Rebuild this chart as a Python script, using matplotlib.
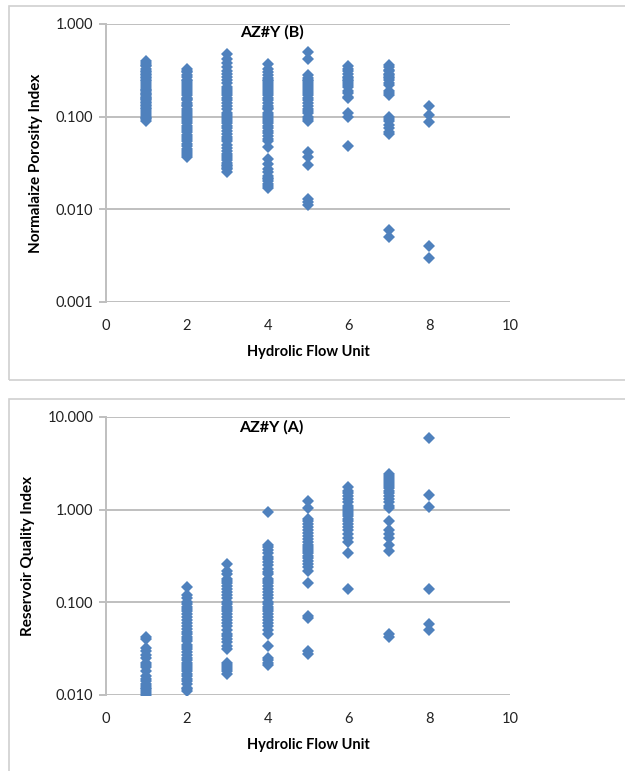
import matplotlib.pyplot as plt
from matplotlib.patches import Rectangle

# Normalaize Porosity Index per hydrolic flow unit (panel B)
npi_1 = [0.40, 0.38, 0.36, 0.35, 0.33, 0.31, 0.30, 0.29, 0.28, 0.27, 0.26, 0.25, 0.24, 0.23,
         0.22, 0.21, 0.20, 0.195, 0.19, 0.18, 0.175, 0.17, 0.165, 0.16, 0.155, 0.15, 0.145,
         0.14, 0.135, 0.13, 0.125, 0.12, 0.115, 0.11, 0.105, 0.10, 0.097, 0.094, 0.09]
npi_2 = [0.33, 0.31, 0.30, 0.28, 0.27, 0.25, 0.24, 0.23, 0.22, 0.21, 0.20, 0.19, 0.18, 0.17,
         0.16, 0.155, 0.15, 0.14, 0.135, 0.13, 0.12, 0.115, 0.11, 0.105, 0.10, 0.095, 0.09,
         0.085, 0.08, 0.076, 0.072, 0.068, 0.064, 0.06, 0.057, 0.054, 0.051, 0.048, 0.045,
         0.043, 0.041, 0.039, 0.037]
npi_3 = [0.47, 0.42, 0.38, 0.34, 0.31, 0.29, 0.27, 0.25, 0.23, 0.21, 0.20, 0.19, 0.18, 0.17,
         0.16, 0.15, 0.14, 0.13, 0.12, 0.11, 0.105, 0.10, 0.095, 0.09, 0.085, 0.08, 0.075,
         0.07, 0.065, 0.06, 0.057, 0.054, 0.05, 0.046, 0.043, 0.04, 0.038, 0.036, 0.034,
         0.032, 0.03, 0.029, 0.028, 0.027, 0.025]
npi_4 = [0.37, 0.33, 0.30, 0.28, 0.26, 0.25, 0.24, 0.23, 0.22, 0.21, 0.20, 0.19, 0.18, 0.17,
         0.16, 0.15, 0.14, 0.13, 0.125, 0.12, 0.11, 0.105, 0.10, 0.095, 0.09, 0.085, 0.08,
         0.075, 0.07, 0.066, 0.062, 0.058, 0.054, 0.047, 0.035, 0.031, 0.027, 0.025, 0.023,
         0.022, 0.021, 0.02, 0.019, 0.018, 0.017]
npi_5 = [0.50, 0.42, 0.28, 0.26, 0.25, 0.24, 0.23, 0.22, 0.21, 0.20, 0.19, 0.18, 0.17, 0.16,
         0.15, 0.14, 0.13, 0.12, 0.115, 0.11, 0.10, 0.095, 0.09, 0.042, 0.037, 0.030, 0.013,
         0.012, 0.011]
npi_6 = [0.35, 0.33, 0.31, 0.29, 0.27, 0.26, 0.25, 0.24, 0.23, 0.22, 0.21, 0.19, 0.18, 0.165,
         0.16, 0.11, 0.10, 0.048]
npi_7 = [0.36, 0.34, 0.32, 0.31, 0.29, 0.28, 0.27, 0.26, 0.25, 0.23, 0.22, 0.19, 0.18, 0.17,
         0.10, 0.095, 0.09, 0.082, 0.075, 0.068, 0.065, 0.006, 0.005]
npi_8 = [0.13, 0.105, 0.088, 0.004, 0.003]

# Reservoir Quality Index per hydrolic flow unit (panel A)
rqi_1 = [0.042, 0.040, 0.032, 0.030, 0.027, 0.025, 0.022, 0.021, 0.020, 0.018, 0.016, 0.015,
         0.014, 0.013, 0.0125, 0.012, 0.0115, 0.011, 0.0105, 0.010]
rqi_2 = [0.145, 0.12, 0.11, 0.10, 0.095, 0.09, 0.085, 0.08, 0.075, 0.07, 0.065, 0.06, 0.056,
         0.052, 0.048, 0.045, 0.042, 0.04, 0.038, 0.035, 0.033, 0.031, 0.029, 0.027, 0.025,
         0.024, 0.022, 0.021, 0.02, 0.019, 0.018, 0.017, 0.016, 0.015, 0.014, 0.013, 0.012,
         0.0115, 0.011]
rqi_3 = [0.26, 0.22, 0.20, 0.18, 0.17, 0.16, 0.15, 0.14, 0.13, 0.12, 0.11, 0.10, 0.095, 0.09,
         0.085, 0.08, 0.075, 0.07, 0.065, 0.06, 0.055, 0.05, 0.046, 0.043, 0.04, 0.037, 0.034,
         0.031, 0.022, 0.021, 0.02, 0.019, 0.018, 0.017]
rqi_4 = [0.95, 0.42, 0.40, 0.37, 0.34, 0.31, 0.29, 0.27, 0.25, 0.23, 0.21, 0.20, 0.18, 0.17,
         0.16, 0.15, 0.14, 0.13, 0.12, 0.11, 0.10, 0.095, 0.09, 0.085, 0.08, 0.075, 0.07,
         0.065, 0.06, 0.055, 0.05, 0.045, 0.034, 0.025, 0.024, 0.022, 0.021]
rqi_5 = [1.25, 1.05, 0.80, 0.75, 0.70, 0.65, 0.60, 0.56, 0.52, 0.48, 0.45, 0.42, 0.40, 0.38,
         0.36, 0.34, 0.32, 0.30, 0.28, 0.26, 0.24, 0.22, 0.16, 0.072, 0.068, 0.030, 0.028]
rqi_6 = [1.75, 1.6, 1.5, 1.4, 1.3, 1.2, 1.1, 1.05, 1.0, 0.95, 0.9, 0.85, 0.8, 0.75, 0.7, 0.65,
         0.6, 0.55, 0.5, 0.45, 0.34, 0.14]
rqi_7 = [2.4, 2.3, 2.2, 2.1, 2.0, 1.9, 1.8, 1.7, 1.6, 1.5, 1.4, 1.3, 1.2, 1.1, 1.05, 0.75, 0.6,
         0.55, 0.5, 0.42, 0.36, 0.045, 0.042]
rqi_8 = [6.0, 1.45, 1.08, 0.14, 0.058, 0.05]

npi_units = [npi_1, npi_2, npi_3, npi_4, npi_5, npi_6, npi_7, npi_8]
rqi_units = [rqi_1, rqi_2, rqi_3, rqi_4, rqi_5, rqi_6, rqi_7, rqi_8]

x_ticks = [0, 2, 4, 6, 8, 10]
npi_ticks = [0.001, 0.01, 0.1, 1.0]
rqi_ticks = [0.01, 0.1, 1.0, 10.0]

BLUE = '#4F81BD'
GRID = '#BFBFBF'
plt.rcParams['font.family'] = ['Lato', 'DejaVu Sans']

W, H = 625, 771
fig = plt.figure(figsize=(W / 100, H / 100), dpi=100)

# outer chart-area frames
fig.add_artist(Rectangle((9 / W, 1 - 380 / H), 700 / W, 374 / H, transform=fig.transFigure,
                         fill=False, edgecolor='#D0D0D0', linewidth=1.2))
fig.add_artist(Rectangle((9 / W, -0.05), 700 / W, 0.05 + 1 - 399 / H, transform=fig.transFigure,
                         fill=False, edgecolor='#D0D0D0', linewidth=1.2))


def draw_panel(top_px, bottom_px, units, yticks, ylabel, title, title_y):
    ax = fig.add_axes([106 / W, 1 - bottom_px / H, 404 / W, (bottom_px - top_px) / H])
    for i, vals in enumerate(units):
        ax.plot([i + 1] * len(vals), vals, linestyle='none', marker='D', markersize=6.5,
                color=BLUE, markeredgewidth=0, zorder=3)
    ax.set_yscale('log')
    ax.set_ylim(yticks[0], yticks[-1])
    ax.set_xlim(0, 10)
    ax.set_yticks(yticks)
    ax.set_yticklabels(['%.3f' % t for t in yticks])
    ax.minorticks_off()
    ax.set_xticks(x_ticks)
    ax.set_xticklabels([str(t) for t in x_ticks])
    ax.grid(axis='y', color=GRID, linewidth=1.4, zorder=0)
    for s in ['top', 'right', 'bottom']:
        ax.spines[s].set_visible(False)
    ax.spines['left'].set_color(GRID)
    ax.spines['left'].set_linewidth(1.4)
    ax.tick_params(axis='y', length=5, width=1.4, color=GRID, labelsize=10.5, pad=4,
                   labelcolor='#222222')
    ax.tick_params(axis='x', length=0, labelsize=10.5, pad=12, labelcolor='#222222')
    ax.set_xlabel('Hydrolic Flow Unit', fontsize=10.5, fontweight='bold', labelpad=9)
    ax.set_ylabel(ylabel, fontsize=11, fontweight='bold', labelpad=9)
    ax.text(4.1, title_y, title, transform=ax.get_xaxis_transform(), ha='center', va='center',
            fontsize=11.5, fontweight='bold')
    return ax


draw_panel(24, 302, npi_units, npi_ticks, 'Normalaize Porosity Index', 'AZ#Y (B)', 0.97)
draw_panel(417, 695, rqi_units, rqi_ticks, 'Reservoir Quality Index', 'AZ#Y (A)', 0.962)

fig.savefig('out.png', dpi=100)
